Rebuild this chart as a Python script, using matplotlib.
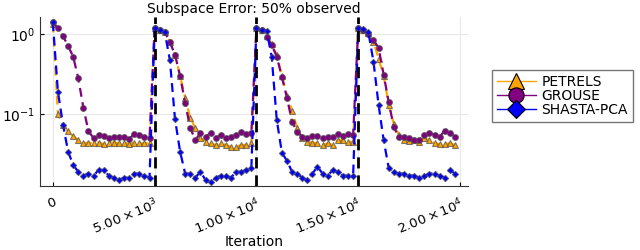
import numpy as np
import matplotlib.pyplot as plt
from matplotlib.lines import Line2D
from matplotlib.ticker import NullLocator, FixedLocator

# iterations sampled every 250, 4 blocks of 5000
iters = np.arange(0, 20000, 250)

petrels = [1.35, 0.10, 0.073, 0.061, 0.053, 0.047, 0.043, 0.044, 0.043, 0.044,
           0.042, 0.044, 0.044, 0.043, 0.044, 0.042, 0.044, 0.043, 0.043, 0.043,
           1.19, 1.12, 1.06, 0.79, 0.55, 0.30, 0.16, 0.089, 0.067, 0.050,
           0.045, 0.043, 0.041, 0.043, 0.041, 0.039, 0.039, 0.041, 0.041, 0.043,
           1.19, 1.12, 0.95, 0.75, 0.55, 0.30, 0.17, 0.11, 0.067, 0.050,
           0.045, 0.044, 0.043, 0.041, 0.043, 0.041, 0.047, 0.047, 0.045, 0.045,
           1.19, 1.12, 1.02, 0.80, 0.49, 0.30, 0.13, 0.075, 0.055, 0.047,
           0.046, 0.047, 0.045, 0.050, 0.047, 0.043, 0.042, 0.042, 0.043, 0.041]

grouse = [1.40, 1.19, 0.94, 0.71, 0.52, 0.28, 0.12, 0.061, 0.050, 0.055,
          0.053, 0.050, 0.051, 0.051, 0.052, 0.049, 0.056, 0.055, 0.052, 0.050,
          1.19, 1.12, 1.06, 0.79, 0.55, 0.30, 0.137, 0.067, 0.047, 0.058,
          0.052, 0.058, 0.050, 0.055, 0.050, 0.052, 0.055, 0.060, 0.056, 0.058,
          1.19, 1.12, 0.92, 0.73, 0.52, 0.29, 0.16, 0.080, 0.060, 0.052,
          0.050, 0.053, 0.053, 0.050, 0.051, 0.051, 0.056, 0.053, 0.056, 0.055,
          1.19, 1.12, 1.00, 0.84, 0.67, 0.31, 0.14, 0.068, 0.052, 0.052,
          0.050, 0.048, 0.047, 0.055, 0.058, 0.055, 0.052, 0.062, 0.058, 0.052]

shasta = [1.40, 0.19, 0.073, 0.034, 0.023, 0.019, 0.017, 0.018, 0.017, 0.020,
          0.020, 0.017, 0.016, 0.015, 0.016, 0.016, 0.018, 0.018, 0.017, 0.016,
          1.20, 1.12, 1.05, 0.47, 0.087, 0.034, 0.018, 0.018, 0.016, 0.019,
          0.015, 0.014, 0.016, 0.017, 0.017, 0.016, 0.019, 0.019, 0.020, 0.021,
          1.19, 1.12, 1.10, 0.52, 0.084, 0.033, 0.026, 0.019, 0.018, 0.016,
          0.015, 0.018, 0.022, 0.018, 0.017, 0.020, 0.019, 0.017, 0.017, 0.017,
          1.19, 1.15, 1.05, 0.45, 0.13, 0.047, 0.021, 0.019, 0.018, 0.018,
          0.017, 0.017, 0.016, 0.017, 0.018, 0.018, 0.017, 0.016, 0.020, 0.018]

resets = [5000, 10000, 15000]
xticks = [0, 5000, 10000, 15000, 20000]
xticklabels = ["0", r"$5.00\times10^{3}$", r"$1.00\times10^{4}$",
               r"$1.50\times10^{4}$", r"$2.00\times10^{4}$"]

series = [("PETRELS", petrels, "#FFA500", "^", 4.2),
          ("GROUSE", grouse, "#800080", "o", 4.2),
          ("SHASTA-PCA", shasta, "#0000FF", "D", 3.2)]

fig = plt.figure(figsize=(6.4, 2.5), dpi=100)
ax = fig.add_axes([0.0625, 0.256, 0.669, 0.676])

for name, vals, col, mk, ms in series:
    ax.plot(iters, vals, color=col, ls=(0, (4, 2.5)), lw=1.6, marker=mk, ms=ms,
            mfc=col, mec=(0.3, 0.3, 0.3, 0.7), mew=0.8, zorder=3)

for r in resets:
    ax.axvline(r, color="black", ls=(0, (4, 2.5)), lw=2, zorder=4)

ax.set_yscale("log")
ax.set_ylim(0.0126, 1.63)
ax.set_xlim(-630, 20400)
ax.yaxis.set_major_locator(FixedLocator([0.1, 1.0]))
ax.yaxis.set_minor_locator(NullLocator())
ax.set_yticklabels([r"$10^{-1}$", r"$10^{0}$"], fontsize=10)
ax.set_xticks(xticks)
ax.set_xticklabels(xticklabels, rotation=22, ha="right", rotation_mode="anchor",
                   fontsize=9.5)
ax.tick_params(direction="in", length=3, width=0.8)
ax.tick_params(axis="x", pad=7)
ax.grid(True, color="#e8e8e8", lw=0.8)
ax.set_axisbelow(True)
for s in ["top", "right"]:
    ax.spines[s].set_visible(False)
for s in ["left", "bottom"]:
    ax.spines[s].set_color("#333333")
ax.set_title("Subspace Error: 50% observed", fontsize=10, pad=3)
ax.set_xlabel("Iteration", fontsize=10)
ax.xaxis.set_label_coords(0.5, -0.29)

handles = [Line2D([], [], color=col, lw=1, marker=mk, ms=11 if mk != "D" else 9,
                  mfc=col, mec="black", mew=0.8)
           for name, vals, col, mk, ms in series]
fig.legend(handles, [s[0] for s in series], loc="upper left",
           bbox_to_anchor=(0.758, 0.748), fontsize=10, frameon=True,
           fancybox=False, edgecolor="#555555", handlelength=2.8,
           borderpad=0.35, labelspacing=0.0, handletextpad=0.4)

fig.savefig("out.png", dpi=100)
